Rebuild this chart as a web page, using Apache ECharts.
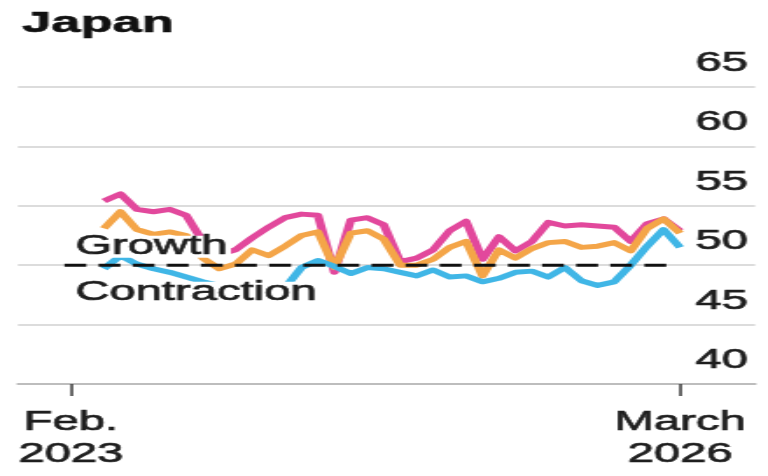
<!DOCTYPE html>
<html>
<head>
<meta charset="utf-8">
<script src="https://cdn.jsdelivr.net/npm/echarts@6/dist/echarts.min.js"></script>
<style>
  html, body { margin: 0; padding: 0; background: #fff; overflow: hidden; }
  #wrap { width: 768px; height: 476px; overflow: hidden; }
  /* The chart is laid out in a narrow column and stretched to full width */
  #chart { width: 439px; height: 476px; transform: scaleX(1.7494); transform-origin: 0 0; }
</style>
</head>
<body>
<div id="wrap"><div id="chart"></div></div>
<script>
// Monthly PMI readings, April 2023 – March 2026
const months = [
  '2023-04','2023-05','2023-06','2023-07','2023-08','2023-09','2023-10','2023-11','2023-12',
  '2024-01','2024-02','2024-03','2024-04','2024-05','2024-06','2024-07','2024-08','2024-09','2024-10','2024-11','2024-12',
  '2025-01','2025-02','2025-03','2025-04','2025-05','2025-06','2025-07','2025-08','2025-09','2025-10','2025-11','2025-12',
  '2026-01','2026-02','2026-03'
];
const services = [55.4, 56.0, 54.7, 54.5, 54.7, 54.2, 52.0, 50.9, 51.3,
  52.3, 53.2, 54.0, 54.3, 54.2, 49.4, 53.8, 54.0, 53.4, 50.3, 50.6, 51.3,
  52.9, 53.7, 50.5, 52.4, 51.2, 52.0, 53.6, 53.3, 53.4, 53.3, 53.2, 52.0,
  53.5, 53.9, 52.9];
const composite = [53.1, 54.5, 53.0, 52.6, 52.8, 52.5, 50.6, 49.7, 50.1,
  51.3, 50.8, 51.6, 52.5, 52.8, 49.8, 52.7, 52.9, 52.2, 50.0, 50.0, 50.5,
  51.5, 52.0, 49.1, 51.3, 50.6, 51.4, 51.9, 52.0, 51.5, 51.6, 51.9, 51.2,
  53.1, 53.9, 52.7];
const manufacturing = [49.7, 50.8, 50.1, 49.7, 49.4, 49.0, 48.6, 48.3, 47.9,
  48.0, 47.3, 48.1, 49.8, 50.4, 49.9, 49.3, 49.8, 49.7, 49.4, 49.1, 49.6,
  49.0, 49.1, 48.6, 48.9, 49.4, 49.5, 49.0, 49.8, 48.7, 48.3, 48.6, 50.0,
  51.6, 53.0, 51.5];

// Axis ticks (months counted from Feb. 2023)
const tickMonths = [0, 37];
const tickLabels = ['Feb.\n2023', 'March\n2026'];
const yTicks = [40, 45, 50, 55, 60, 65];
// Growth/contraction threshold, drawn across the plotted period
const threshold = 50;
const thresholdSpan = [-0.4, 36.2];

const FONT = '"Liberation Sans", Arial, Helvetica, sans-serif';
const INK = '#1e1e1e';

function monthIndex(s) {
  const [y, m] = s.split('-').map(Number);
  return (y - 2023) * 12 + (m - 2);
}
function pairs(values) {
  return values.map((v, i) => [monthIndex(months[i]), v]);
}

const chart = echarts.init(document.getElementById('chart'), null, { renderer: 'canvas' });

const labelText = {
  fontFamily: FONT, fontSize: 27, color: INK,
  textBorderColor: INK, textBorderWidth: 0.7
};

// Zone labels sit on a white plate that masks the lines behind them
function zoneLabel(text, top) {
  return {
    type: 'text', z: 10, left: 41, top: top,
    style: {
      text: text, font: '27px ' + FONT, fill: INK,
      stroke: INK, lineWidth: 0.7, lineHeight: 22,
      backgroundColor: '#fff', padding: [0, 2, 0, 2]
    }
  };
}

chart.setOption({
  animation: false,
  backgroundColor: '#fff',
  title: {
    text: 'Japan',
    left: 12.6,
    top: 9,
    padding: 0,
    textStyle: { fontFamily: FONT, fontSize: 30, fontWeight: 'bold', color: '#111',
      textBorderColor: '#111', textBorderWidth: 0.6 }
  },
  grid: { left: 10.3, right: 7.4, top: 87, bottom: 92, containLabel: false },
  xAxis: {
    type: 'value',
    min: -3.22,
    max: 41.558,
    splitLine: { show: false },
    axisLine: { show: true, lineStyle: { color: '#bdbdbd', width: 2 } },
    axisTick: {
      show: true,
      customValues: tickMonths,
      length: 12,
      lineStyle: { color: '#444', width: 1.6 }
    },
    axisLabel: Object.assign({
      show: true,
      customValues: tickMonths,
      margin: 23,
      lineHeight: 32,
      formatter: v => tickLabels[tickMonths.indexOf(Math.round(v))] || ''
    }, labelText)
  },
  yAxis: {
    type: 'value',
    position: 'right',
    min: yTicks[0],
    max: yTicks[yTicks.length - 1],
    interval: 5,
    axisLine: { show: false },
    axisTick: { show: false },
    splitLine: { show: true, lineStyle: { color: '#dcdcdc', width: 2 } },
    axisLabel: Object.assign({
      inside: true,
      margin: 4,
      align: 'right',
      verticalAlign: 'bottom',
      padding: [0, 0, 10, 0]
    }, labelText)
  },
  series: [
    {
      name: 'Services', type: 'line', data: pairs(services),
      showSymbol: false, z: 2,
      lineStyle: { color: '#e2489c', width: 5, join: 'round' }
    },
    {
      name: 'Composite', type: 'line', data: pairs(composite),
      showSymbol: false, z: 3,
      lineStyle: { color: '#f4a548', width: 5, join: 'round' }
    },
    {
      name: 'Manufacturing', type: 'line', data: pairs(manufacturing),
      showSymbol: false, z: 4,
      lineStyle: { color: '#40b6e6', width: 5, join: 'round' }
    },
    {
      name: 'Threshold', type: 'line',
      data: thresholdSpan.map(x => [x, threshold]),
      showSymbol: false, z: 5,
      lineStyle: { color: '#111', width: 3, type: [12.5, 7] }
    }
  ],
  graphic: [
    zoneLabel('Growth', 233),
    zoneLabel('Contraction', 279)
  ]
});
</script>
</body>
</html>
